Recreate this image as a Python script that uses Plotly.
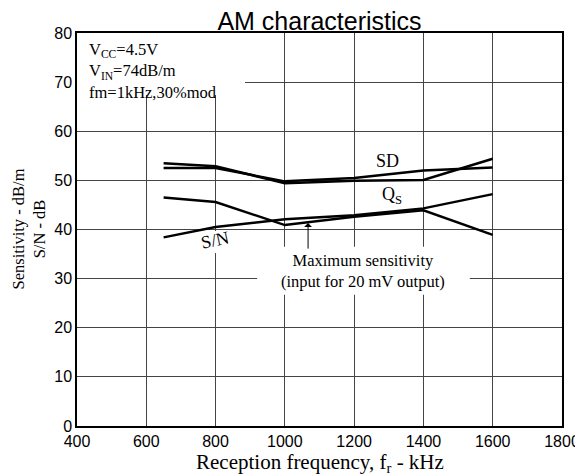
import plotly.graph_objects as go

freq = [650, 800, 1000, 1200, 1400, 1600]
sens_a = [53.5, 52.9, 49.4, 49.9, 50.1, 54.4]
sens_sd = [52.5, 52.5, 49.8, 50.5, 52.0, 52.6]
sens_qs = [46.5, 45.6, 40.9, 42.6, 43.9, 38.9]
sn = [38.4, 40.5, 42.1, 42.9, 44.3, 47.2]

x_ticks = [400, 600, 800, 1000, 1200, 1400, 1600, 1800]
y_ticks = [0, 10, 20, 30, 40, 50, 60, 70, 80]

SANS = "Liberation Sans, Arial, sans-serif"
SERIF = "Liberation Serif, Times New Roman, serif"

fig = go.Figure()
for ys in [sens_a, sens_sd, sens_qs, sn]:
    fig.add_trace(go.Scatter(x=freq, y=ys, mode="lines",
                             line=dict(color="black", width=2.5),
                             showlegend=False, hoverinfo="skip"))

# white boxes hiding the grid behind labels
for x0, x1, y0, y1 in [(400, 885, 67.4, 80), (920, 1534, 26.7, 36.5), (770, 836, 35.2, 39.7)]:
    fig.add_shape(type="rect", xref="x", yref="y", x0=x0, x1=x1, y0=y0, y1=y1,
                  fillcolor="white", line=dict(width=0), layer="between")

ann = []
ann.append(dict(x=429, y=79.0, xref="x", yref="y",
                text="V<sub>CC</sub>=4.5V<br>V<sub>IN</sub>=74dB/m<br>fm=1kHz,30%mod",
                showarrow=False, xanchor="left", yanchor="top", align="left",
                font=dict(family=SERIF, size=16.5, color="black")))
ann.append(dict(x=1295, y=54.0, xref="x", yref="y", text="SD", showarrow=False,
                font=dict(family=SERIF, size=18, color="black")))
ann.append(dict(x=1309, y=47.0, xref="x", yref="y", text="Q<sub>S</sub>", showarrow=False,
                font=dict(family=SERIF, size=18, color="black")))
ann.append(dict(x=798, y=37.9, xref="x", yref="y", text="S/N", showarrow=False, textangle=-12,
                font=dict(family=SERIF, size=18, color="black")))
ann.append(dict(x=1226, y=31.6, xref="x", yref="y",
                text="Maximum sensitivity<br>(input for 20 mV output)", showarrow=False,
                font=dict(family=SERIF, size=16.5, color="black")))
ann.append(dict(x=1067, y=41.3, xref="x", yref="y", ax=0, ay=27, text="", showarrow=True,
                arrowhead=1, arrowsize=1.3, arrowwidth=1, arrowcolor="black"))
ann.append(dict(x=-0.101, y=0.5, xref="paper", yref="paper", text="Sensitivity - dB/m<br>S/N - dB",
                showarrow=False, textangle=-90, xanchor="center", yanchor="middle",
                font=dict(family=SERIF, size=16.5, color="black")))
ann.append(dict(x=0.5, y=-0.0941, xref="paper", yref="paper",
                text="Reception frequency, f<sub>r</sub> - kHz", showarrow=False,
                xanchor="center", yanchor="middle",
                font=dict(family=SERIF, size=21, color="black")))

fig.update_layout(
    width=575, height=468,
    margin=dict(l=69, r=21, t=25, b=50, autoexpand=False),
    paper_bgcolor="white", plot_bgcolor="white",
    title=dict(text="AM characteristics", x=0.5, xref="paper", xanchor="center",
               y=1 - 13 / 468, yref="container", yanchor="middle",
               font=dict(family=SANS, size=25, color="black")),
    annotations=ann,
    xaxis=dict(range=[400, 1800], tickvals=x_ticks, showgrid=True, gridcolor="#444", gridwidth=1,
               showline=True, linecolor="black", linewidth=1.5, mirror=True, ticks="",
               zeroline=False, tickfont=dict(family=SANS, size=16, color="black")),
    yaxis=dict(range=[0, 80], tickvals=y_ticks, showgrid=True, gridcolor="#444", gridwidth=1,
               showline=True, linecolor="black", linewidth=1.5, mirror=True, ticks="",
               zeroline=False, tickfont=dict(family=SANS, size=16, color="black")),
)

fig.write_html("out.html")
